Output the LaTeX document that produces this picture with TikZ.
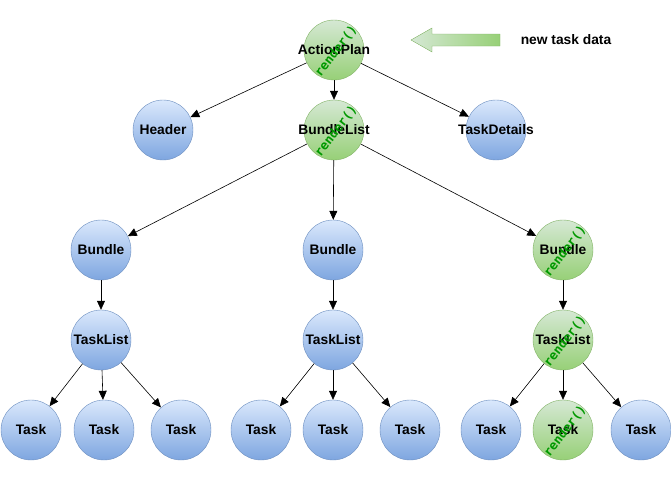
\documentclass[tikz,border=0pt]{standalone}
\usepackage{fontspec}
\setmainfont{Liberation Sans}
\setmonofont{DejaVu Sans Mono}
\usetikzlibrary{arrows.meta,positioning}
\definecolor{nodeblueline}{HTML}{6C8EBF}
\definecolor{nodebluetop}{HTML}{DAE8FC}
\definecolor{nodebluebot}{HTML}{7EA6E0}
\definecolor{nodegreenline}{HTML}{82B366}
\definecolor{nodegreentop}{HTML}{D5E8D4}
\definecolor{nodegreenbot}{HTML}{97D077}
\definecolor{rendergreen}{HTML}{009900}

\begin{document}
\begin{tikzpicture}[x=1pt,y=-1pt,font=\fontsize{13.8}{15}\selectfont\bfseries,
  treenode/.style={circle,minimum size=60pt,inner sep=0pt,
    execute at begin node=\hbox to 0pt\bgroup\hss,execute at end node=\hss\egroup},
  static/.style={treenode,draw=nodeblueline,top color=nodebluetop,bottom color=nodebluebot},
  updated/.style={treenode,draw=nodegreenline,top color=nodegreentop,bottom color=nodegreenbot},
  rendertag/.style={text=rendergreen,font=\fontsize{12.5}{13}\selectfont\ttfamily\bfseries,rotate=52,inner sep=0pt},
  link/.style={-{Triangle[length=9pt,width=8pt]},line width=0.6pt}]
  \useasboundingbox (0,0) rectangle (671,479);
  % top row
  \node[updated] (plan) at (334,50) {ActionPlan};
  \node[static] (header) at (163,130) {Header};
  \node[updated] (bundles) at (334,130) {BundleList};
  \node[static] (details) at (496,130) {TaskDetails};
  % bundles and task lists
  \node[static] (b1) at (101,250) {Bundle};
  \node[static] (b2) at (333,250) {Bundle};
  \node[updated] (b3) at (563,250) {Bundle};
  \node[static] (l1) at (101,340) {TaskList};
  \node[static] (l2) at (333,340) {TaskList};
  \node[updated] (l3) at (563,340) {TaskList};
  % tasks
  \node[static] (t11) at (31,430) {Task};
  \node[static] (t12) at (104,430) {Task};
  \node[static] (t13) at (181,430) {Task};
  \node[static] (t21) at (261,430) {Task};
  \node[static] (t22) at (333,430) {Task};
  \node[static] (t23) at (410,430) {Task};
  \node[static] (t31) at (491,430) {Task};
  \node[updated] (t32) at (563,430) {Task};
  \node[static] (t33) at (641,430) {Task};
  \foreach \a/\b in {plan/header,plan/bundles,plan/details,bundles/b1,bundles/b2,bundles/b3,b1/l1,b2/l2,b3/l3}
    {\draw[link] (\a)--(\b);}
  \foreach \i in {1,2,3} {\foreach \j in {1,2,3} {\draw[link] (l\i)--(t\i\j);}}
  \foreach \n in {plan,bundles,b3,l3,t32} {\node[rendertag] (\n-r) at ([shift={(2,1)}]\n.center) {render()};}
  % incoming data
  \draw[draw=nodegreenline,left color=nodegreentop,right color=nodegreenbot]
    (411,40) -- (432,28) -- (432,34) -- (500,34) -- (500,46) -- (432,46) -- (432,52) -- cycle;
  \node (newdata) at (566,40) {new task data};
\end{tikzpicture}
\end{document}
